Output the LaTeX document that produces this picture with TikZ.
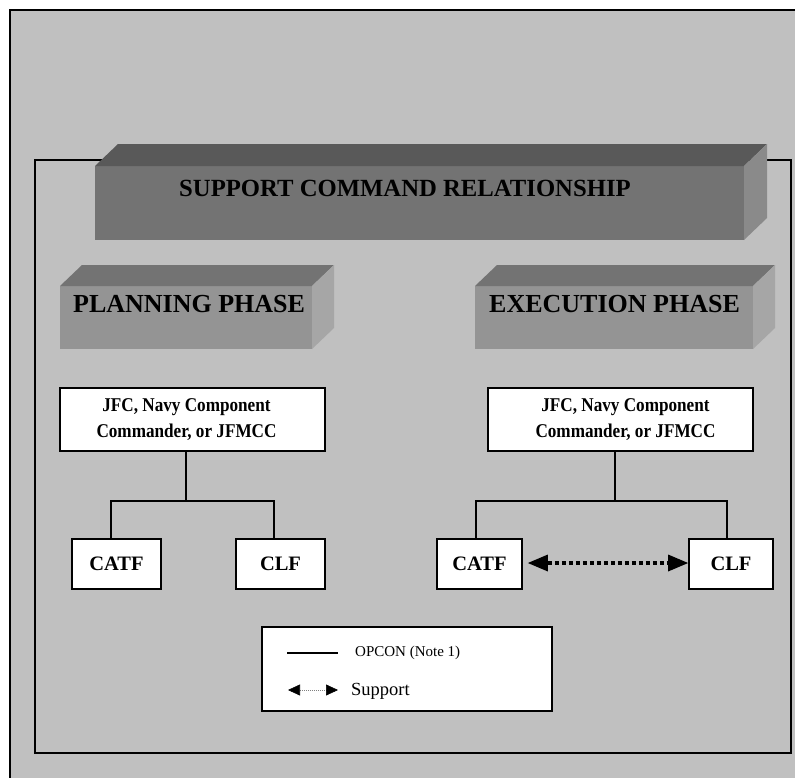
\documentclass[tikz,border=0pt]{standalone}
\usepackage{fontspec}
\setmainfont{Liberation Serif}
\newfontfamily\condfont[FakeStretch=0.88]{Liberation Serif}
\usetikzlibrary{arrows.meta}
\definecolor{bggray}{HTML}{C0C0C0}
\definecolor{bigtop}{HTML}{595959}
\definecolor{bigfront}{HTML}{737373}
\definecolor{bigside}{HTML}{8A8A8A}
\definecolor{phtop}{HTML}{737373}
\definecolor{phfront}{HTML}{949494}
\definecolor{phside}{HTML}{A6A6A6}
\tikzset{
  frame/.style={draw=black, line width=1.8pt},
  orgbox/.style={draw=black, fill=white, line width=1.8pt, inner sep=0pt, align=center},
  conn/.style={draw=black, line width=1.8pt},
  supp/.style={line width=4pt, dash pattern=on 4pt off 3pt, {Triangle[length=20pt,width=17pt,line width=0pt]}-{Triangle[length=20pt,width=17pt,line width=0pt]}},
  legsupp/.style={line width=0.6pt, gray, dash pattern=on 1pt off 1pt, {Triangle[length=12pt,width=11pt,black]}-{Triangle[length=12pt,width=11pt,black]}},
  phtext/.style={anchor=base west, inner sep=0pt, font=\fontsize{26}{30}\selectfont\bfseries},
}
\begin{document}
\begin{tikzpicture}[x=1pt,y=-1pt]
\useasboundingbox (0,0) rectangle (795,777);
\clip (0,0) rectangle (795,777);
\fill[white] (0,0) rectangle (795,777);
% outer frame
\draw[frame, fill=bggray] (10,10) rectangle (820,800);
% inner frame
\draw[frame] (35,160) rectangle (791,753);
% big 3D title box
\fill[bigfront] (95,166) rectangle (744,240);
\fill[bigtop] (95,166) -- (118,144) -- (767,144) -- (744,166) -- cycle;
\fill[bigside] (744,166) -- (767,144) -- (767,218) -- (744,240) -- cycle;
\node[anchor=base west, inner sep=0pt, font=\fontsize{24.7}{28}\selectfont\bfseries] (title) at (179,196) {SUPPORT COMMAND RELATIONSHIP};
% planning phase box
\fill[phfront] (60,286) rectangle (312,349);
\fill[phtop] (60,286) -- (82,265) -- (334,265) -- (312,286) -- cycle;
\fill[phside] (312,286) -- (334,265) -- (334,328) -- (312,349) -- cycle;
\node[phtext] (plan) at (73,312) {PLANNING PHASE};
% execution phase box
\fill[phfront] (475,286) rectangle (753,349);
\fill[phtop] (475,286) -- (497,265) -- (775,265) -- (753,286) -- cycle;
\fill[phside] (753,286) -- (775,265) -- (775,328) -- (753,349) -- cycle;
\node[phtext] (exec) at (489,312) {EXECUTION PHASE};
% org boxes left
\node[orgbox, minimum width=265pt, minimum height=63pt, font=\condfont\fontsize{19.5}{26}\selectfont\bfseries] (jfcL) at (192.5,419.5) {\hspace*{-12pt}JFC, Navy Component\\\hspace*{-12pt}Commander, or JFMCC};
\node[orgbox, minimum width=89pt, minimum height=50pt, font=\fontsize{20.5}{24}\selectfont\bfseries] (catfL) at (116.5,564) {CATF};
\node[orgbox, minimum width=89pt, minimum height=50pt, font=\fontsize{20.5}{24}\selectfont\bfseries] (clfL) at (280.5,564) {CLF};
% org boxes right
\node[orgbox, minimum width=265pt, minimum height=63pt, font=\condfont\fontsize{19.5}{26}\selectfont\bfseries] (jfcR) at (620.5,419.5) {\hspace*{10pt}JFC, Navy Component\\\hspace*{10pt}Commander, or JFMCC};
\node[orgbox, minimum width=85pt, minimum height=50pt, font=\fontsize{20.5}{24}\selectfont\bfseries] (catfR) at (479.5,564) {CATF};
\node[orgbox, minimum width=84pt, minimum height=50pt, font=\fontsize{20.5}{24}\selectfont\bfseries] (clfR) at (731,564) {CLF};
% connectors left
\coordinate (busL) at (186,501);
\draw[conn] ([xshift=-6.5pt]jfcL.south) -- (busL);
\draw[conn] ([xshift=-5.5pt]catfL.north) |- (busL) -| ([xshift=-6.5pt]clfL.north);
% connectors right
\coordinate (busR) at (615,501);
\draw[conn] ([xshift=-5.5pt]jfcR.south) -- (busR);
\draw[conn] ([xshift=-3.5pt]catfR.north) |- (busR) -| ([xshift=-4pt]clfR.north);
% support arrow
\draw[supp] ([xshift=5pt,yshift=1pt]catfR.east) -- ([yshift=1pt]clfR.west);
% legend
\node[orgbox, minimum width=290pt, minimum height=84pt] (legend) at (407,669) {};
\coordinate (l1a) at (287,653);
\coordinate (l1b) at (338,653);
\draw[line width=1.5pt] (l1a) -- (l1b);
\node[anchor=base west, inner sep=0pt, font=\fontsize{15}{18}\selectfont] (opcon) at (355,656) {OPCON (Note 1)};
\coordinate (l2a) at (288,690);
\coordinate (l2b) at (338,690);
\draw[legsupp] (l2a) -- (l2b);
\node[anchor=base west, inner sep=0pt, font=\fontsize{18.5}{22}\selectfont] (support) at (351,695) {Support};
\end{tikzpicture}
\end{document}
